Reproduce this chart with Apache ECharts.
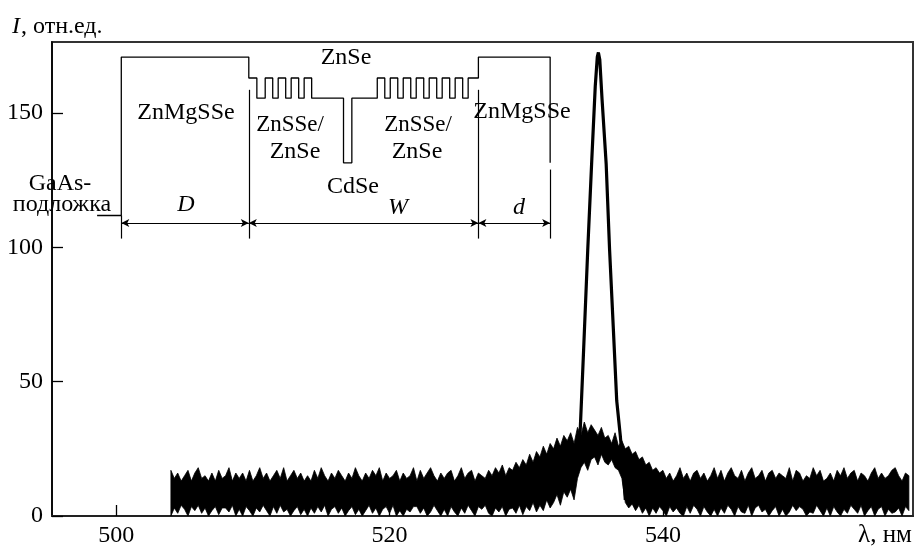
<!DOCTYPE html>
<html>
<head>
<meta charset="utf-8">
<script src="https://cdn.jsdelivr.net/npm/echarts@6/dist/echarts.min.js"></script>
<style>
  html, body { margin: 0; padding: 0; background: #fff; }
  #chart { width: 916px; height: 548px; }
</style>
</head>
<body>
<div id="chart"></div>
<script>
// ====== Data ======
const xTicks = [500, 520, 540];
const yTicks = [0, 50, 100, 150];

// noisy spectrum, read as low / high envelope every 0.25 nm from 504 nm
const noiseStart = 504;
const noiseStep = 0.25;
const noiseHigh = [
  17,14,16,13, 15,17,13,16, 18,14,15,13, 16,13,17,14, 15,18,13,16,
  14,16,13,17, 13,15,18,14, 16,13,15,17, 14,18,13,15, 17,14,16,13,
  15,13,17,14, 18,15,13,16, 14,17,15,13, 16,14,18,15, 13,16,14,17,
  15,18,13,16, 14,15,17,13, 16,14,15,18, 13,17,14,16, 18,15,13,16,
  14,16,17,13, 15,18,14,16, 17,13,16,15, 14,17,15,18, 16,19,15,18,
  17,20,18,21, 19,23,20,24, 22,26,23,27, 25,29,26,30, 28,31,27,33,
  30,35,31,34, 32,30,33,29, 30,27,31,26, 28,25,26,23, 24,21,22,19,
  20,17,18,16, 17,14,16,13, 15,18,14,16, 13,16,17,14, 16,13,15,18,
  14,17,13,16, 18,15,14,17, 13,16,18,14, 15,17,13,16, 17,14,16,15,
  14,18,13,17, 16,13,15,14, 18,15,17,13, 14,16,13,17, 15,18,14,16,
  17,13,16,15, 13,16,18,14, 16,14,15,17, 18,15,13,16, 15
];
const noiseLow = [
  0,3,1,4, 2.5,0,3.5,2, 4,1,3,0, 2,3.5,0.5,3, 3,1.5,4,0,
  2.5,0,3.5,2, 0,3,1.5,4, 2,0,3.5,1, 4,1.5,2.5,0, 2,3.5,0.5,2.5,
  0,3,1,3.5, 1.5,4,0,2.5, 3.5,1,3,0, 2,3.5,0.5,2.5, 0,2,4,1,
  3,0,2.5,3.5, 1,4,0,2, 0,2.5,1.5,3.5, 3.5,1,3,0, 1.5,4,2,0,
  2.5,0,3.5,1.5, 0,3,1,4, 2,0,3.5,2.5, 4,1,0,3, 1.5,3.5,0,2.5,
  3,1,4,0.5, 3.5,2,5,1.5, 4,2,6,3, 5,8,4,9, 7,10,6,14,
  18,20,17,21, 22,19,23,20, 19,21,18,17, 14,5,3,4.5, 2,4,1,3,
  0,3,1,3.5, 2,0,3.5,1.5, 3,1,0,3.5, 1,4,2.5,0, 3.5,1.5,0,2.5,
  0,3,1,4, 2.5,0,3.5,1.5, 1,4,0,3, 4,1.5,2.5,0, 2,3.5,0,2.5,
  0,1.5,4,2, 3.5,2.5,0,1.5, 1,4,2,0, 3,0,3.5,1.5, 0,2.5,1,4,
  2.5,1,4,0, 2,3.5,0,2.5, 3.5,0,2.5,1, 1.5,3,0,3.5, 2
];

// lasing line
const peakX = [533.7, 533.95, 534.2, 534.5, 534.8, 535.05, 535.2, 535.28, 535.38, 535.55, 535.85, 536.1, 536.38, 536.62, 536.88, 537.1, 537.25];
const peakY = [16, 32, 62, 99, 133, 160, 171, 172.6, 170, 155, 131, 99, 69, 43, 30, 17, 6];

// band diagram inset (nm along x, arb. units along y)
const levelTop = 170.9;   // ZnMgSSe
const levelZnSe = 163.1;
const levelSL = 155.6;    // ZnSSe/ZnSe bottom
const levelCdSe = 131.5;
const levelGaAs = 111.9;
const leftBarriers = [510.9, 511.85, 512.8, 513.75];
const rightBarriers = [519.1, 520.05, 521.0, 521.95, 522.9, 523.85, 524.8];
const barrierWidth = 0.55;
const edges = [500.37, 509.7, 526.5, 531.75];  // D | W | d boundaries
const dimLevel = 109.1;

// ====== Build inset path ======
const bandPath = [
  [498.6, levelGaAs], [edges[0], levelGaAs], [edges[0], levelTop], [edges[1], levelTop],
  [edges[1], levelZnSe], [510.29, levelZnSe], [510.29, levelSL]
];
leftBarriers.forEach(s => {
  bandPath.push([s, levelSL], [s, levelZnSe], [s + barrierWidth, levelZnSe], [s + barrierWidth, levelSL]);
});
bandPath.push([516.63, levelSL], [516.63, levelCdSe], [517.24, levelCdSe], [517.24, levelSL]);
rightBarriers.forEach(s => {
  bandPath.push([s, levelSL], [s, levelZnSe], [s + barrierWidth, levelZnSe], [s + barrierWidth, levelSL]);
});
bandPath.push([525.75, levelSL], [525.75, levelZnSe], [edges[2], levelZnSe], [edges[2], levelTop],
  [edges[3], levelTop], [edges[3], levelCdSe]);

const noiseData = noiseHigh.map((h, i) => [noiseStart + i * noiseStep, noiseLow[i], h]);
const peakData = peakX.map((x, i) => [x, peakY[i]]);

const FONT = '"Liberation Serif", "Times New Roman", serif';

function seg(a, b, arrows) {
  return [
    { coord: a, symbol: arrows ? 'arrow' : 'none' },
    { coord: b, symbol: arrows ? 'arrow' : 'none' }
  ];
}

const dimLines = [
  seg([edges[0], levelGaAs], [edges[0], 103.3]),
  seg([edges[1], 158.7], [edges[1], 103.3]),
  seg([edges[2], 158.7], [edges[2], 103.3]),
  seg([edges[3], 129], [edges[3], 103.3]),
  seg([edges[0], dimLevel], [edges[1], dimLevel], true),
  seg([edges[1], dimLevel], [edges[2], dimLevel], true),
  seg([edges[2], dimLevel], [edges[3], dimLevel], true)
];

// ====== Chart ======
const chart = echarts.init(document.getElementById('chart'));

function txt(text, x, y, size, italic, align) {
  return {
    type: 'text', x: x, y: y, z: 100,
    style: {
      text: text, fill: '#000',
      font: (italic ? 'italic ' : '') + size + 'px ' + FONT,
      align: align || 'center', verticalAlign: 'middle'
    }
  };
}

const option = {
  animation: false,
  backgroundColor: '#fff',
  grid: { left: 52, right: 3, top: 42, bottom: 31, show: true, borderColor: '#333', borderWidth: 2 },
  xAxis: {
    type: 'value', min: 495.3, max: 558.3,
    axisLine: { lineStyle: { color: '#222', width: 2 } },
    axisTick: { inside: true, length: 11, customValues: xTicks, lineStyle: { color: '#000', width: 1.3 } },
    axisLabel: { customValues: xTicks, margin: 8, color: '#000', fontSize: 24, fontFamily: FONT },
    splitLine: { show: false }
  },
  yAxis: {
    type: 'value', min: 0, max: 176.5,
    axisLine: { show: true, lineStyle: { color: '#000', width: 1.5 } },
    axisTick: { show: true, inside: true, length: 11, customValues: yTicks, lineStyle: { color: '#000', width: 1.3 } },
    axisLabel: { customValues: yTicks, margin: 9, color: '#000', fontSize: 24, fontFamily: FONT },
    splitLine: { show: false }
  },
  series: [
    {
      type: 'custom',
      data: noiseData,
      encode: { x: 0, y: [1, 2] },
      silent: true,
      renderItem: (params, api) => {
        if (params.dataIndex !== 0) return null;
        const top = noiseData.map(d => api.coord([d[0], d[2]]));
        const bottom = noiseData.map(d => api.coord([d[0], d[1]])).reverse();
        return {
          type: 'polygon',
          shape: { points: top.concat(bottom) },
          style: { fill: '#000', stroke: '#000', lineWidth: 0.8 }
        };
      }
    },
    {
      type: 'line', data: peakData, symbol: 'none', z: 5,
      lineStyle: { color: '#000', width: 3.2 }
    },
    {
      type: 'line', data: bandPath, symbol: 'none', z: 4,
      lineStyle: { color: '#000', width: 1.3 },
      markLine: {
        silent: true, animation: false,
        symbolSize: [6, 8],
        label: { show: false },
        lineStyle: { color: '#000', width: 1.2, type: 'solid' },
        data: dimLines
      }
    }
  ],
  graphic: [
    txt('I', 12, 27, 24, true, 'left'),
    txt(', отн.ед.', 21, 27, 24, false, 'left'),
    txt('λ, нм', 885, 535, 25),
    txt('GaAs-', 60, 184, 24),
    txt('подложка', 62, 205, 24),
    txt('ZnMgSSe', 186, 113, 24),
    txt('D', 186, 205, 24, true),
    txt('ZnSe', 346, 58, 24),
    txt('ZnSSe/', 290, 125, 23),
    txt('ZnSe', 295, 152, 24),
    txt('CdSe', 353, 187, 24),
    txt('ZnSSe/', 418, 125, 23),
    txt('ZnSe', 417, 152, 24),
    txt('W', 398, 208, 24, true),
    txt('d', 519, 208, 24, true),
    txt('ZnMgSSe', 522, 112, 24)
  ]
};

chart.setOption(option);
</script>
</body>
</html>
